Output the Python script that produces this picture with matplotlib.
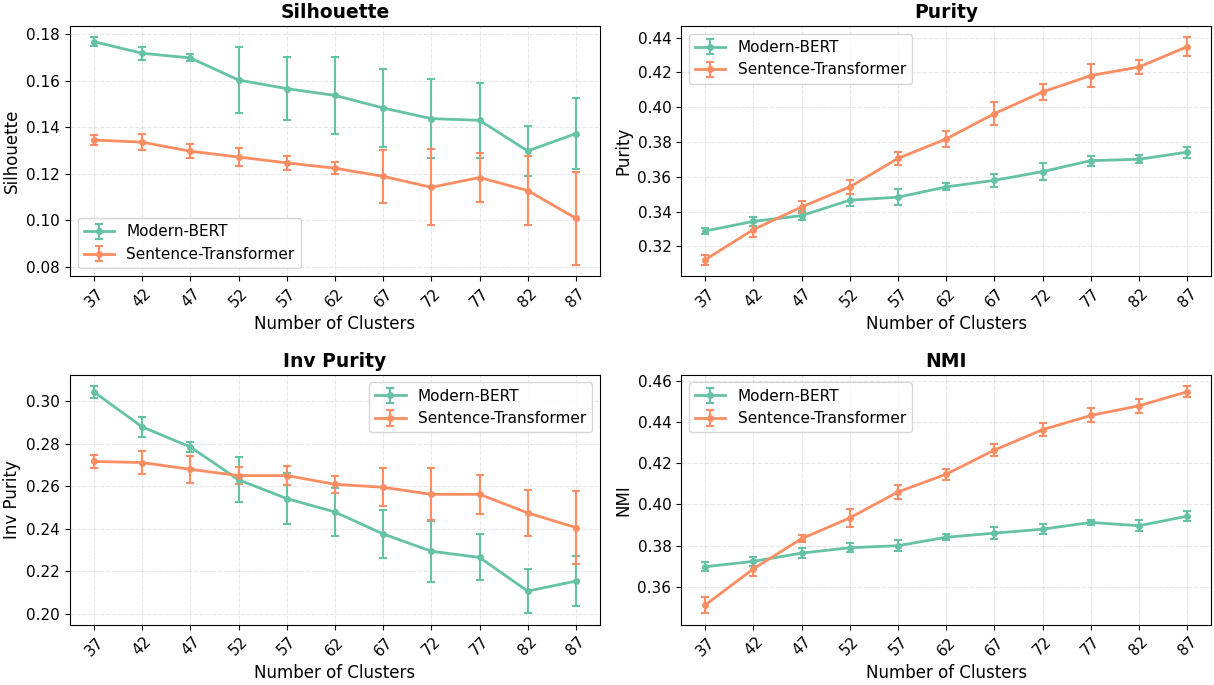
import matplotlib
matplotlib.use("Agg")
import matplotlib.pyplot as plt
from matplotlib.ticker import MultipleLocator

# Cluster counts on the x axis
clusters = [37, 42, 47, 52, 57, 62, 67, 72, 77, 82, 87]

# Mean and std per metric
sil_bert = [0.1768, 0.1718, 0.1698, 0.1603, 0.1566, 0.1537, 0.1483, 0.1437, 0.1430, 0.1298, 0.1373]
sil_bert_err = [0.0018, 0.0028, 0.0015, 0.0141, 0.0136, 0.0166, 0.0167, 0.0171, 0.0162, 0.0108, 0.0154]
sil_st = [0.1345, 0.1336, 0.1297, 0.1272, 0.1247, 0.1224, 0.1189, 0.1142, 0.1184, 0.1128, 0.1009]
sil_st_err = [0.0021, 0.0033, 0.0031, 0.0037, 0.0029, 0.0026, 0.0115, 0.0164, 0.0107, 0.0148, 0.0199]

pur_bert = [0.3289, 0.3344, 0.3377, 0.3466, 0.3483, 0.3542, 0.3580, 0.3630, 0.3693, 0.3701, 0.3742]
pur_bert_err = [0.0019, 0.0028, 0.0024, 0.0033, 0.0046, 0.0020, 0.0038, 0.0048, 0.0028, 0.0023, 0.0032]
pur_st = [0.3124, 0.3297, 0.3427, 0.3542, 0.3706, 0.3818, 0.3963, 0.4088, 0.4182, 0.4231, 0.4348]
pur_st_err = [0.0028, 0.0042, 0.0037, 0.0040, 0.0036, 0.0048, 0.0067, 0.0044, 0.0065, 0.0042, 0.0053]

inv_bert = [0.3042, 0.2878, 0.2784, 0.2630, 0.2542, 0.2479, 0.2376, 0.2295, 0.2266, 0.2108, 0.2155]
inv_bert_err = [0.0027, 0.0046, 0.0024, 0.0106, 0.0120, 0.0111, 0.0112, 0.0142, 0.0108, 0.0104, 0.0117]
inv_st = [0.2716, 0.2711, 0.2679, 0.2650, 0.2650, 0.2609, 0.2595, 0.2562, 0.2562, 0.2475, 0.2406]
inv_st_err = [0.0032, 0.0054, 0.0065, 0.0041, 0.0044, 0.0041, 0.0090, 0.0122, 0.0090, 0.0108, 0.0172]

nmi_bert = [0.3698, 0.3724, 0.3764, 0.3790, 0.3800, 0.3841, 0.3861, 0.3880, 0.3913, 0.3897, 0.3943]
nmi_bert_err = [0.0022, 0.0022, 0.0026, 0.0022, 0.0026, 0.0014, 0.0030, 0.0023, 0.0014, 0.0028, 0.0023]
nmi_st = [0.3512, 0.3688, 0.3834, 0.3935, 0.4061, 0.4147, 0.4264, 0.4363, 0.4432, 0.4479, 0.4547]
nmi_st_err = [0.0040, 0.0035, 0.0017, 0.0043, 0.0032, 0.0026, 0.0030, 0.0033, 0.0034, 0.0035, 0.0027]

panels = [
    ("Silhouette", sil_bert, sil_bert_err, sil_st, sil_st_err, "lower left"),
    ("Purity", pur_bert, pur_bert_err, pur_st, pur_st_err, "upper left"),
    ("Inv Purity", inv_bert, inv_bert_err, inv_st, inv_st_err, "upper right"),
    ("NMI", nmi_bert, nmi_bert_err, nmi_st, nmi_st_err, "upper left"),
]

green = "#66c2a5"
orange = "#fc8d62"

fig, axes = plt.subplots(2, 2, figsize=(12.14, 6.85), dpi=100)

for ax, (name, b, be, s, se, loc) in zip(axes.flat, panels):
    ax.errorbar(clusters, b, yerr=be, color=green, marker="o", markersize=4,
                linewidth=2, capsize=3, elinewidth=1.5, capthick=1.5, label="Modern-BERT")
    ax.errorbar(clusters, s, yerr=se, color=orange, marker="o", markersize=4,
                linewidth=2, capsize=3, elinewidth=1.5, capthick=1.5, label="Sentence-Transformer")
    ax.set_title(name, fontsize=13.5, fontweight="bold")
    ax.set_xlabel("Number of Clusters", fontsize=12)
    ax.set_ylabel(name, fontsize=12)
    ax.set_xticks(clusters)
    ax.yaxis.set_major_locator(MultipleLocator(0.02))
    ax.tick_params(axis="x", rotation=45, labelsize=11)
    ax.tick_params(axis="y", labelsize=11)
    ax.grid(True, linestyle="--", alpha=0.3)
    ax.legend(loc=loc, fontsize=11)

plt.tight_layout(pad=0.2, h_pad=1.3, w_pad=1.0)
plt.savefig("out.png", dpi=100)
